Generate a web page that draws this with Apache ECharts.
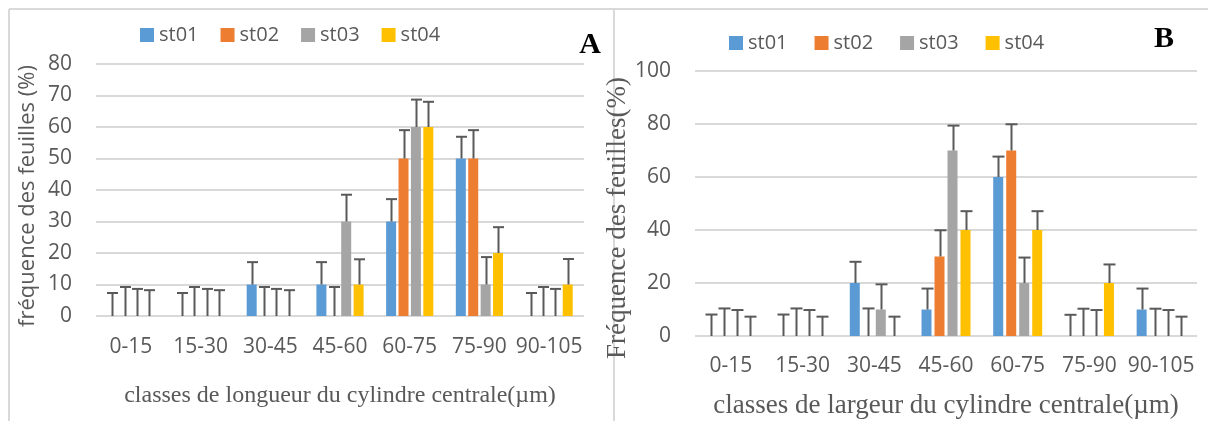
<!DOCTYPE html>
<html>
<head>
<meta charset="utf-8">
<script src="https://cdn.jsdelivr.net/npm/echarts@6.0.0/dist/echarts.min.js"></script>
<style>
  html, body { margin: 0; padding: 0; background: #fff; }
  #chart { width: 1208px; height: 421px; }
</style>
</head>
<body>
<div id="chart"></div>
<script>
// classes (µm), shared by both panels
var categories = ['0-15', '15-30', '30-45', '45-60', '60-75', '75-90', '90-105'];
var stations = ['st01', 'st02', 'st03', 'st04'];
var colors = ['#5B9BD5', '#ED7D31', '#A5A5A5', '#FFC000'];

// A : longueur du cylindre central (%)
var lenSt01 = [0, 0, 10, 10, 30, 50, 0];
var lenSt02 = [0, 0, 0, 0, 50, 50, 0];
var lenSt03 = [0, 0, 0, 30, 60, 10, 0];
var lenSt04 = [0, 0, 0, 10, 60, 20, 10];
// A : error (upper bar only)
var lenErrSt01 = [7.3, 7.3, 7.1, 7.1, 7.1, 6.9, 7.3];
var lenErrSt02 = [9.2, 9.2, 9.2, 9.2, 9, 9, 9.2];
var lenErrSt03 = [8.6, 8.6, 8.6, 8.5, 8.7, 8.7, 8.6];
var lenErrSt04 = [8.2, 8.2, 8.2, 8, 8, 8.2, 8.1];

// B : largeur du cylindre central (%)
var larSt01 = [0, 0, 20, 10, 60, 0, 10];
var larSt02 = [0, 0, 0, 30, 70, 0, 0];
var larSt03 = [0, 0, 10, 70, 20, 0, 0];
var larSt04 = [0, 0, 0, 40, 40, 20, 0];
var larErrSt01 = [8.1, 8.1, 8, 7.9, 7.7, 8, 7.9];
var larErrSt02 = [10.4, 10.4, 10.4, 9.9, 9.9, 10.3, 10.3];
var larErrSt03 = [9.8, 9.8, 9.5, 9.4, 9.6, 9.8, 9.8];
var larErrSt04 = [7.3, 7.3, 7.3, 7.1, 7.1, 7, 7.3];

// A ticks 0..80 step 10, B ticks 0..100 step 20
var yTicksA = { min: 0, max: 80, interval: 10 };
var yTicksB = { min: 0, max: 100, interval: 20 };

var txt = '#595959';
var sans = '"Open Sans", sans-serif';
var serif = '"Liberation Serif", "DejaVu Serif", serif';

var chart = echarts.init(document.getElementById('chart'), null, { renderer: 'canvas' });

// error bar drawn from the bar top, shifted to the bar's slot in the group
function errorBar(slot, pitch, cap) {
    return function (params, api) {
        var v = api.value(1), top = api.value(2);
        var p0 = api.coord([api.value(0), v]);
        var p1 = api.coord([api.value(0), top]);
        var cx = Math.round(p0[0] + (slot - 1.5) * pitch) + 0.5;
        var st = { stroke: '#595959', lineWidth: 2 };
        return {
            type: 'group',
            children: [
                { type: 'line', shape: { x1: cx, y1: p0[1], x2: cx, y2: p1[1] }, style: st },
                { type: 'line', shape: { x1: cx - cap / 2, y1: p1[1], x2: cx + cap / 2, y2: p1[1] }, style: st }
            ]
        };
    };
}

function errData(vals, errs) {
    return vals.map(function (v, i) { return [i, v, v + errs[i]]; });
}

var series = [];
function addPanel(idx, vals, errs, barW, gap, cap) {
    var pitch = barW * (1 + gap);
    for (var i = 0; i < 4; i++) {
        series.push({
            name: stations[i], type: 'bar',
            xAxisIndex: idx, yAxisIndex: idx,
            data: vals[i],
            barWidth: barW, barGap: (gap * 100) + '%',
            itemStyle: { color: colors[i] },
            emphasis: { disabled: true },
            z: 2
        });
    }
    for (var j = 0; j < 4; j++) {
        series.push({
            name: 'err' + idx + j, type: 'custom',
            xAxisIndex: idx, yAxisIndex: idx,
            renderItem: errorBar(j, pitch, cap),
            data: errData(vals[j], errs[j]),
            encode: { x: 0, y: [1, 2] },
            silent: true,
            z: 5
        });
    }
}
addPanel(0, [lenSt01, lenSt02, lenSt03, lenSt04], [lenErrSt01, lenErrSt02, lenErrSt03, lenErrSt04], 10, 0.24, 11);
addPanel(1, [larSt01, larSt02, larSt03, larSt04], [larErrSt01, larErrSt02, larErrSt03, larErrSt04], 10, 0.30, 12);

function xAxisOf(gi, name, size, gap) {
    return {
        type: 'category', gridIndex: gi, data: categories,
        axisLine: { show: false }, axisTick: { show: false },
        axisLabel: { interval: 0, color: txt, fontFamily: sans, fontSize: 21, margin: gi === 0 ? 21 : 20 },
        name: name, nameLocation: 'middle', nameGap: gap,
        nameTextStyle: { color: txt, fontFamily: serif, fontSize: size }
    };
}
// right padding pushes the rotated title down the page
function yAxisOf(gi, ticks, name, font, size, gap, pad) {
    return {
        type: 'value', gridIndex: gi,
        min: ticks.min, max: ticks.max, interval: ticks.interval,
        axisLine: { show: false }, axisTick: { show: false },
        axisLabel: { color: txt, fontFamily: sans, fontSize: 21, margin: 24 },
        splitLine: { lineStyle: { color: '#d9d9d9', width: 2 } },
        name: name, nameLocation: 'middle', nameGap: gap,
        nameTextStyle: { color: txt, fontFamily: font, fontSize: size, padding: [0, pad, 0, 0] }
    };
}

var frame = { stroke: '#d9d9d9', lineWidth: 2 };

chart.setOption({
    backgroundColor: '#fff',
    animation: false,
    legend: [
        { data: stations, left: 140, top: 24, padding: 0, itemWidth: 14, itemHeight: 14, itemGap: 22,
          icon: 'rect', textStyle: { color: txt, fontFamily: sans, fontSize: 20, lineHeight: 22 } },
        { data: stations, left: 729, top: 32, padding: 0, itemWidth: 14, itemHeight: 14, itemGap: 27,
          icon: 'rect', textStyle: { color: txt, fontFamily: sans, fontSize: 20, lineHeight: 22 } }
    ],
    grid: [
        { left: 96, right: 624, top: 64, bottom: 105, outerBoundsMode: 'none' },
        { left: 695, right: 11, top: 71, bottom: 85, outerBoundsMode: 'none' }
    ],
    xAxis: [
        xAxisOf(0, 'classes de longueur du cylindre centrale(µm)', 24, 68),
        xAxisOf(1, 'classes de largeur du cylindre centrale(µm)', 27, 56)
    ],
    yAxis: [
        yAxisOf(0, yTicksA, 'fréquence des feuilles (%)', sans, 22, 57, 12),
        yAxisOf(1, yTicksB, 'Fréquence des feuilles(%)', serif, 27, 50, 29)
    ],
    graphic: [
        { type: 'line', shape: { x1: 9, y1: 9, x2: 1208, y2: 9 }, style: frame, silent: true },
        { type: 'line', shape: { x1: 9, y1: 9, x2: 9, y2: 421 }, style: frame, silent: true },
        { type: 'line', shape: { x1: 614, y1: 9, x2: 614, y2: 421 }, style: frame, silent: true },
        { type: 'text', x: 590, y: 45, silent: true,
          style: { text: 'A', font: 'bold 30px "Liberation Serif"', fill: '#000', align: 'center', verticalAlign: 'middle' } },
        { type: 'text', x: 1164, y: 39, silent: true,
          style: { text: 'B', font: 'bold 30px "Liberation Serif"', fill: '#000', align: 'center', verticalAlign: 'middle' } }
    ],
    series: series
});
</script>
</body>
</html>
